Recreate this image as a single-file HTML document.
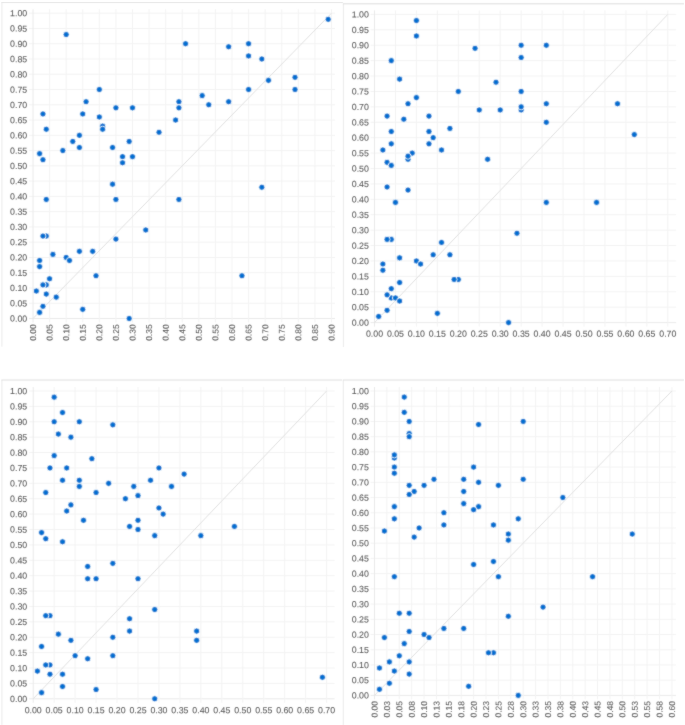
<!DOCTYPE html>
<html><head><meta charset="utf-8"><title>Scatter plots</title>
<style>
html,body{margin:0;padding:0;background:#fff;}
body{width:685px;height:725px;overflow:hidden;}
svg{display:block;}
text{font-family:"Liberation Sans",sans-serif;font-size:8.8px;fill:#606060;stroke:#606060;stroke-width:0.1px;stroke-linejoin:round;letter-spacing:0px;}
circle{fill:#0470d0;stroke:#fff;stroke-width:0.8px;}
</style></head>
<body>
<svg width="685" height="725" viewBox="0 0 685 725">
<defs><filter id="bf" x="0" y="0" width="100%" height="100%"><feConvolveMatrix order="3" kernelMatrix="0.015 0.07 0.015 0.07 0.66 0.07 0.015 0.07 0.015" divisor="1" preserveAlpha="false" edgeMode="none"/></filter></defs>
<rect width="685" height="725" fill="#fff"/>
<g filter="url(#bf)">
<g>
<line x1="1.9" y1="2.3" x2="1.9" y2="346.7" stroke="#eaeaea" stroke-width="1"/>
<line x1="1.4" y1="2.3" x2="342.9" y2="2.3" stroke="#dedede" stroke-width="1"/>
<line x1="29.00" y1="318.50" x2="335.00" y2="318.50" stroke="#eaeaea" stroke-width="1"/>
<line x1="29.00" y1="303.24" x2="335.00" y2="303.24" stroke="#f3f3f3" stroke-width="1"/>
<line x1="29.00" y1="287.97" x2="335.00" y2="287.97" stroke="#f3f3f3" stroke-width="1"/>
<line x1="29.00" y1="272.70" x2="335.00" y2="272.70" stroke="#f3f3f3" stroke-width="1"/>
<line x1="29.00" y1="257.44" x2="335.00" y2="257.44" stroke="#f3f3f3" stroke-width="1"/>
<line x1="29.00" y1="242.18" x2="335.00" y2="242.18" stroke="#f3f3f3" stroke-width="1"/>
<line x1="29.00" y1="226.91" x2="335.00" y2="226.91" stroke="#f3f3f3" stroke-width="1"/>
<line x1="29.00" y1="211.65" x2="335.00" y2="211.65" stroke="#f3f3f3" stroke-width="1"/>
<line x1="29.00" y1="196.38" x2="335.00" y2="196.38" stroke="#f3f3f3" stroke-width="1"/>
<line x1="29.00" y1="181.11" x2="335.00" y2="181.11" stroke="#f3f3f3" stroke-width="1"/>
<line x1="29.00" y1="165.85" x2="335.00" y2="165.85" stroke="#f3f3f3" stroke-width="1"/>
<line x1="29.00" y1="150.58" x2="335.00" y2="150.58" stroke="#f3f3f3" stroke-width="1"/>
<line x1="29.00" y1="135.32" x2="335.00" y2="135.32" stroke="#f3f3f3" stroke-width="1"/>
<line x1="29.00" y1="120.06" x2="335.00" y2="120.06" stroke="#f3f3f3" stroke-width="1"/>
<line x1="29.00" y1="104.79" x2="335.00" y2="104.79" stroke="#f3f3f3" stroke-width="1"/>
<line x1="29.00" y1="89.53" x2="335.00" y2="89.53" stroke="#f3f3f3" stroke-width="1"/>
<line x1="29.00" y1="74.26" x2="335.00" y2="74.26" stroke="#f3f3f3" stroke-width="1"/>
<line x1="29.00" y1="59.00" x2="335.00" y2="59.00" stroke="#f3f3f3" stroke-width="1"/>
<line x1="29.00" y1="43.73" x2="335.00" y2="43.73" stroke="#f3f3f3" stroke-width="1"/>
<line x1="29.00" y1="28.47" x2="335.00" y2="28.47" stroke="#f3f3f3" stroke-width="1"/>
<line x1="29.00" y1="13.20" x2="335.00" y2="13.20" stroke="#f3f3f3" stroke-width="1"/>
<line x1="33.00" y1="9.20" x2="33.00" y2="322.50" stroke="#eaeaea" stroke-width="1"/>
<line x1="49.58" y1="9.20" x2="49.58" y2="322.50" stroke="#f3f3f3" stroke-width="1"/>
<line x1="66.17" y1="9.20" x2="66.17" y2="322.50" stroke="#f3f3f3" stroke-width="1"/>
<line x1="82.75" y1="9.20" x2="82.75" y2="322.50" stroke="#f3f3f3" stroke-width="1"/>
<line x1="99.33" y1="9.20" x2="99.33" y2="322.50" stroke="#f3f3f3" stroke-width="1"/>
<line x1="115.92" y1="9.20" x2="115.92" y2="322.50" stroke="#f3f3f3" stroke-width="1"/>
<line x1="132.50" y1="9.20" x2="132.50" y2="322.50" stroke="#f3f3f3" stroke-width="1"/>
<line x1="149.08" y1="9.20" x2="149.08" y2="322.50" stroke="#f3f3f3" stroke-width="1"/>
<line x1="165.67" y1="9.20" x2="165.67" y2="322.50" stroke="#f3f3f3" stroke-width="1"/>
<line x1="182.25" y1="9.20" x2="182.25" y2="322.50" stroke="#f3f3f3" stroke-width="1"/>
<line x1="198.83" y1="9.20" x2="198.83" y2="322.50" stroke="#f3f3f3" stroke-width="1"/>
<line x1="215.42" y1="9.20" x2="215.42" y2="322.50" stroke="#f3f3f3" stroke-width="1"/>
<line x1="232.00" y1="9.20" x2="232.00" y2="322.50" stroke="#f3f3f3" stroke-width="1"/>
<line x1="248.58" y1="9.20" x2="248.58" y2="322.50" stroke="#f3f3f3" stroke-width="1"/>
<line x1="265.17" y1="9.20" x2="265.17" y2="322.50" stroke="#f3f3f3" stroke-width="1"/>
<line x1="281.75" y1="9.20" x2="281.75" y2="322.50" stroke="#f3f3f3" stroke-width="1"/>
<line x1="298.33" y1="9.20" x2="298.33" y2="322.50" stroke="#f3f3f3" stroke-width="1"/>
<line x1="314.92" y1="9.20" x2="314.92" y2="322.50" stroke="#f3f3f3" stroke-width="1"/>
<line x1="331.50" y1="9.20" x2="331.50" y2="322.50" stroke="#f3f3f3" stroke-width="1"/>
<line x1="33.0" y1="318.5" x2="331.5" y2="13.2" stroke="#e0e0e0" stroke-width="1"/>
<text transform="translate(27.2 321.70) rotate(0.3)" text-anchor="end">0.00</text>
<text transform="translate(27.2 306.44) rotate(0.3)" text-anchor="end">0.05</text>
<text transform="translate(27.2 291.17) rotate(0.3)" text-anchor="end">0.10</text>
<text transform="translate(27.2 275.91) rotate(0.3)" text-anchor="end">0.15</text>
<text transform="translate(27.2 260.64) rotate(0.3)" text-anchor="end">0.20</text>
<text transform="translate(27.2 245.38) rotate(0.3)" text-anchor="end">0.25</text>
<text transform="translate(27.2 230.11) rotate(0.3)" text-anchor="end">0.30</text>
<text transform="translate(27.2 214.85) rotate(0.3)" text-anchor="end">0.35</text>
<text transform="translate(27.2 199.58) rotate(0.3)" text-anchor="end">0.40</text>
<text transform="translate(27.2 184.32) rotate(0.3)" text-anchor="end">0.45</text>
<text transform="translate(27.2 169.05) rotate(0.3)" text-anchor="end">0.50</text>
<text transform="translate(27.2 153.79) rotate(0.3)" text-anchor="end">0.55</text>
<text transform="translate(27.2 138.52) rotate(0.3)" text-anchor="end">0.60</text>
<text transform="translate(27.2 123.26) rotate(0.3)" text-anchor="end">0.65</text>
<text transform="translate(27.2 107.99) rotate(0.3)" text-anchor="end">0.70</text>
<text transform="translate(27.2 92.73) rotate(0.3)" text-anchor="end">0.75</text>
<text transform="translate(27.2 77.46) rotate(0.3)" text-anchor="end">0.80</text>
<text transform="translate(27.2 62.20) rotate(0.3)" text-anchor="end">0.85</text>
<text transform="translate(27.2 46.93) rotate(0.3)" text-anchor="end">0.90</text>
<text transform="translate(27.2 31.67) rotate(0.3)" text-anchor="end">0.95</text>
<text transform="translate(27.2 16.40) rotate(0.3)" text-anchor="end">1.00</text>
<text transform="translate(36.04 324.4) rotate(-89.7)" text-anchor="end" style="font-size:8.45px">0.00</text>
<text transform="translate(52.63 324.4) rotate(-89.7)" text-anchor="end" style="font-size:8.45px">0.05</text>
<text transform="translate(69.21 324.4) rotate(-89.7)" text-anchor="end" style="font-size:8.45px">0.10</text>
<text transform="translate(85.79 324.4) rotate(-89.7)" text-anchor="end" style="font-size:8.45px">0.15</text>
<text transform="translate(102.38 324.4) rotate(-89.7)" text-anchor="end" style="font-size:8.45px">0.20</text>
<text transform="translate(118.96 324.4) rotate(-89.7)" text-anchor="end" style="font-size:8.45px">0.25</text>
<text transform="translate(135.54 324.4) rotate(-89.7)" text-anchor="end" style="font-size:8.45px">0.30</text>
<text transform="translate(152.13 324.4) rotate(-89.7)" text-anchor="end" style="font-size:8.45px">0.35</text>
<text transform="translate(168.71 324.4) rotate(-89.7)" text-anchor="end" style="font-size:8.45px">0.40</text>
<text transform="translate(185.29 324.4) rotate(-89.7)" text-anchor="end" style="font-size:8.45px">0.45</text>
<text transform="translate(201.88 324.4) rotate(-89.7)" text-anchor="end" style="font-size:8.45px">0.50</text>
<text transform="translate(218.46 324.4) rotate(-89.7)" text-anchor="end" style="font-size:8.45px">0.55</text>
<text transform="translate(235.04 324.4) rotate(-89.7)" text-anchor="end" style="font-size:8.45px">0.60</text>
<text transform="translate(251.63 324.4) rotate(-89.7)" text-anchor="end" style="font-size:8.45px">0.65</text>
<text transform="translate(268.21 324.4) rotate(-89.7)" text-anchor="end" style="font-size:8.45px">0.70</text>
<text transform="translate(284.79 324.4) rotate(-89.7)" text-anchor="end" style="font-size:8.45px">0.75</text>
<text transform="translate(301.38 324.4) rotate(-89.7)" text-anchor="end" style="font-size:8.45px">0.80</text>
<text transform="translate(317.96 324.4) rotate(-89.7)" text-anchor="end" style="font-size:8.45px">0.85</text>
<text transform="translate(334.54 324.4) rotate(-89.7)" text-anchor="end" style="font-size:8.45px">0.90</text>
<circle cx="328.18" cy="19.31" r="3.05"/>
<circle cx="66.17" cy="34.57" r="3.05"/>
<circle cx="185.57" cy="43.73" r="3.05"/>
<circle cx="228.68" cy="46.78" r="3.05"/>
<circle cx="248.58" cy="43.73" r="3.05"/>
<circle cx="248.58" cy="55.94" r="3.05"/>
<circle cx="261.85" cy="59.00" r="3.05"/>
<circle cx="295.02" cy="77.31" r="3.05"/>
<circle cx="268.48" cy="80.37" r="3.05"/>
<circle cx="295.02" cy="89.52" r="3.05"/>
<circle cx="248.58" cy="89.52" r="3.05"/>
<circle cx="202.15" cy="95.63" r="3.05"/>
<circle cx="208.78" cy="104.79" r="3.05"/>
<circle cx="228.68" cy="101.74" r="3.05"/>
<circle cx="178.93" cy="101.74" r="3.05"/>
<circle cx="178.93" cy="107.84" r="3.05"/>
<circle cx="175.62" cy="120.05" r="3.05"/>
<circle cx="159.03" cy="132.27" r="3.05"/>
<circle cx="99.33" cy="89.52" r="3.05"/>
<circle cx="86.07" cy="101.74" r="3.05"/>
<circle cx="82.75" cy="113.95" r="3.05"/>
<circle cx="99.33" cy="117.00" r="3.05"/>
<circle cx="102.65" cy="126.16" r="3.05"/>
<circle cx="102.65" cy="129.21" r="3.05"/>
<circle cx="115.92" cy="107.84" r="3.05"/>
<circle cx="132.50" cy="107.84" r="3.05"/>
<circle cx="42.95" cy="113.95" r="3.05"/>
<circle cx="46.27" cy="129.21" r="3.05"/>
<circle cx="79.43" cy="135.32" r="3.05"/>
<circle cx="72.80" cy="141.43" r="3.05"/>
<circle cx="79.43" cy="147.53" r="3.05"/>
<circle cx="62.85" cy="150.58" r="3.05"/>
<circle cx="39.63" cy="153.64" r="3.05"/>
<circle cx="42.95" cy="159.74" r="3.05"/>
<circle cx="112.60" cy="147.53" r="3.05"/>
<circle cx="129.18" cy="141.43" r="3.05"/>
<circle cx="122.55" cy="156.69" r="3.05"/>
<circle cx="132.50" cy="156.69" r="3.05"/>
<circle cx="122.55" cy="162.80" r="3.05"/>
<circle cx="112.60" cy="184.17" r="3.05"/>
<circle cx="46.27" cy="199.43" r="3.05"/>
<circle cx="115.92" cy="199.43" r="3.05"/>
<circle cx="178.93" cy="199.43" r="3.05"/>
<circle cx="261.85" cy="187.22" r="3.05"/>
<circle cx="145.77" cy="229.96" r="3.05"/>
<circle cx="46.27" cy="236.07" r="3.05"/>
<circle cx="42.95" cy="236.07" r="3.05"/>
<circle cx="115.92" cy="239.12" r="3.05"/>
<circle cx="79.43" cy="251.33" r="3.05"/>
<circle cx="92.70" cy="251.33" r="3.05"/>
<circle cx="52.90" cy="254.39" r="3.05"/>
<circle cx="66.17" cy="257.44" r="3.05"/>
<circle cx="69.48" cy="260.49" r="3.05"/>
<circle cx="39.63" cy="260.49" r="3.05"/>
<circle cx="39.63" cy="266.60" r="3.05"/>
<circle cx="96.02" cy="275.76" r="3.05"/>
<circle cx="241.95" cy="275.76" r="3.05"/>
<circle cx="49.58" cy="278.81" r="3.05"/>
<circle cx="46.27" cy="284.92" r="3.05"/>
<circle cx="42.95" cy="284.92" r="3.05"/>
<circle cx="36.32" cy="291.02" r="3.05"/>
<circle cx="46.27" cy="294.08" r="3.05"/>
<circle cx="56.22" cy="297.13" r="3.05"/>
<circle cx="42.95" cy="306.29" r="3.05"/>
<circle cx="39.63" cy="312.39" r="3.05"/>
<circle cx="82.75" cy="309.34" r="3.05"/>
<circle cx="129.18" cy="318.50" r="3.05"/>
</g>
<g>
<line x1="343.4" y1="3.8" x2="343.4" y2="347.0" stroke="#eaeaea" stroke-width="1"/>
<line x1="342.9" y1="3.8" x2="684" y2="3.8" stroke="#dedede" stroke-width="1"/>
<line x1="370.50" y1="322.60" x2="676.20" y2="322.60" stroke="#eaeaea" stroke-width="1"/>
<line x1="370.50" y1="307.19" x2="676.20" y2="307.19" stroke="#f3f3f3" stroke-width="1"/>
<line x1="370.50" y1="291.78" x2="676.20" y2="291.78" stroke="#f3f3f3" stroke-width="1"/>
<line x1="370.50" y1="276.37" x2="676.20" y2="276.37" stroke="#f3f3f3" stroke-width="1"/>
<line x1="370.50" y1="260.96" x2="676.20" y2="260.96" stroke="#f3f3f3" stroke-width="1"/>
<line x1="370.50" y1="245.55" x2="676.20" y2="245.55" stroke="#f3f3f3" stroke-width="1"/>
<line x1="370.50" y1="230.14" x2="676.20" y2="230.14" stroke="#f3f3f3" stroke-width="1"/>
<line x1="370.50" y1="214.73" x2="676.20" y2="214.73" stroke="#f3f3f3" stroke-width="1"/>
<line x1="370.50" y1="199.32" x2="676.20" y2="199.32" stroke="#f3f3f3" stroke-width="1"/>
<line x1="370.50" y1="183.91" x2="676.20" y2="183.91" stroke="#f3f3f3" stroke-width="1"/>
<line x1="370.50" y1="168.50" x2="676.20" y2="168.50" stroke="#f3f3f3" stroke-width="1"/>
<line x1="370.50" y1="153.09" x2="676.20" y2="153.09" stroke="#f3f3f3" stroke-width="1"/>
<line x1="370.50" y1="137.68" x2="676.20" y2="137.68" stroke="#f3f3f3" stroke-width="1"/>
<line x1="370.50" y1="122.27" x2="676.20" y2="122.27" stroke="#f3f3f3" stroke-width="1"/>
<line x1="370.50" y1="106.86" x2="676.20" y2="106.86" stroke="#f3f3f3" stroke-width="1"/>
<line x1="370.50" y1="91.45" x2="676.20" y2="91.45" stroke="#f3f3f3" stroke-width="1"/>
<line x1="370.50" y1="76.04" x2="676.20" y2="76.04" stroke="#f3f3f3" stroke-width="1"/>
<line x1="370.50" y1="60.63" x2="676.20" y2="60.63" stroke="#f3f3f3" stroke-width="1"/>
<line x1="370.50" y1="45.22" x2="676.20" y2="45.22" stroke="#f3f3f3" stroke-width="1"/>
<line x1="370.50" y1="29.81" x2="676.20" y2="29.81" stroke="#f3f3f3" stroke-width="1"/>
<line x1="370.50" y1="14.40" x2="676.20" y2="14.40" stroke="#f3f3f3" stroke-width="1"/>
<line x1="374.50" y1="10.40" x2="374.50" y2="326.60" stroke="#eaeaea" stroke-width="1"/>
<line x1="395.45" y1="10.40" x2="395.45" y2="326.60" stroke="#f3f3f3" stroke-width="1"/>
<line x1="416.40" y1="10.40" x2="416.40" y2="326.60" stroke="#f3f3f3" stroke-width="1"/>
<line x1="437.35" y1="10.40" x2="437.35" y2="326.60" stroke="#f3f3f3" stroke-width="1"/>
<line x1="458.30" y1="10.40" x2="458.30" y2="326.60" stroke="#f3f3f3" stroke-width="1"/>
<line x1="479.25" y1="10.40" x2="479.25" y2="326.60" stroke="#f3f3f3" stroke-width="1"/>
<line x1="500.20" y1="10.40" x2="500.20" y2="326.60" stroke="#f3f3f3" stroke-width="1"/>
<line x1="521.15" y1="10.40" x2="521.15" y2="326.60" stroke="#f3f3f3" stroke-width="1"/>
<line x1="542.10" y1="10.40" x2="542.10" y2="326.60" stroke="#f3f3f3" stroke-width="1"/>
<line x1="563.05" y1="10.40" x2="563.05" y2="326.60" stroke="#f3f3f3" stroke-width="1"/>
<line x1="584.00" y1="10.40" x2="584.00" y2="326.60" stroke="#f3f3f3" stroke-width="1"/>
<line x1="604.95" y1="10.40" x2="604.95" y2="326.60" stroke="#f3f3f3" stroke-width="1"/>
<line x1="625.90" y1="10.40" x2="625.90" y2="326.60" stroke="#f3f3f3" stroke-width="1"/>
<line x1="646.85" y1="10.40" x2="646.85" y2="326.60" stroke="#f3f3f3" stroke-width="1"/>
<line x1="667.80" y1="10.40" x2="667.80" y2="326.60" stroke="#f3f3f3" stroke-width="1"/>
<line x1="374.5" y1="322.6" x2="667.8" y2="14.4" stroke="#e0e0e0" stroke-width="1"/>
<text transform="translate(368.9 325.80) rotate(0.3)" text-anchor="end">0.00</text>
<text transform="translate(368.9 310.39) rotate(0.3)" text-anchor="end">0.05</text>
<text transform="translate(368.9 294.98) rotate(0.3)" text-anchor="end">0.10</text>
<text transform="translate(368.9 279.57) rotate(0.3)" text-anchor="end">0.15</text>
<text transform="translate(368.9 264.16) rotate(0.3)" text-anchor="end">0.20</text>
<text transform="translate(368.9 248.75) rotate(0.3)" text-anchor="end">0.25</text>
<text transform="translate(368.9 233.34) rotate(0.3)" text-anchor="end">0.30</text>
<text transform="translate(368.9 217.93) rotate(0.3)" text-anchor="end">0.35</text>
<text transform="translate(368.9 202.52) rotate(0.3)" text-anchor="end">0.40</text>
<text transform="translate(368.9 187.11) rotate(0.3)" text-anchor="end">0.45</text>
<text transform="translate(368.9 171.70) rotate(0.3)" text-anchor="end">0.50</text>
<text transform="translate(368.9 156.29) rotate(0.3)" text-anchor="end">0.55</text>
<text transform="translate(368.9 140.88) rotate(0.3)" text-anchor="end">0.60</text>
<text transform="translate(368.9 125.47) rotate(0.3)" text-anchor="end">0.65</text>
<text transform="translate(368.9 110.06) rotate(0.3)" text-anchor="end">0.70</text>
<text transform="translate(368.9 94.65) rotate(0.3)" text-anchor="end">0.75</text>
<text transform="translate(368.9 79.24) rotate(0.3)" text-anchor="end">0.80</text>
<text transform="translate(368.9 63.83) rotate(0.3)" text-anchor="end">0.85</text>
<text transform="translate(368.9 48.42) rotate(0.3)" text-anchor="end">0.90</text>
<text transform="translate(368.9 33.01) rotate(0.3)" text-anchor="end">0.95</text>
<text transform="translate(368.9 17.60) rotate(0.3)" text-anchor="end">1.00</text>
<text transform="translate(374.50 336.80) rotate(0.3)" text-anchor="middle">0.00</text>
<text transform="translate(395.45 336.80) rotate(0.3)" text-anchor="middle">0.05</text>
<text transform="translate(416.40 336.80) rotate(0.3)" text-anchor="middle">0.10</text>
<text transform="translate(437.35 336.80) rotate(0.3)" text-anchor="middle">0.15</text>
<text transform="translate(458.30 336.80) rotate(0.3)" text-anchor="middle">0.20</text>
<text transform="translate(479.25 336.80) rotate(0.3)" text-anchor="middle">0.25</text>
<text transform="translate(500.20 336.80) rotate(0.3)" text-anchor="middle">0.30</text>
<text transform="translate(521.15 336.80) rotate(0.3)" text-anchor="middle">0.35</text>
<text transform="translate(542.10 336.80) rotate(0.3)" text-anchor="middle">0.40</text>
<text transform="translate(563.05 336.80) rotate(0.3)" text-anchor="middle">0.45</text>
<text transform="translate(584.00 336.80) rotate(0.3)" text-anchor="middle">0.50</text>
<text transform="translate(604.95 336.80) rotate(0.3)" text-anchor="middle">0.55</text>
<text transform="translate(625.90 336.80) rotate(0.3)" text-anchor="middle">0.60</text>
<text transform="translate(646.85 336.80) rotate(0.3)" text-anchor="middle">0.65</text>
<text transform="translate(667.80 336.80) rotate(0.3)" text-anchor="middle">0.70</text>
<circle cx="416.40" cy="20.56" r="3.05"/>
<circle cx="416.40" cy="35.97" r="3.05"/>
<circle cx="475.06" cy="48.30" r="3.05"/>
<circle cx="521.15" cy="45.22" r="3.05"/>
<circle cx="546.29" cy="45.22" r="3.05"/>
<circle cx="391.26" cy="60.63" r="3.05"/>
<circle cx="521.15" cy="57.55" r="3.05"/>
<circle cx="399.64" cy="79.12" r="3.05"/>
<circle cx="496.01" cy="82.20" r="3.05"/>
<circle cx="458.30" cy="91.45" r="3.05"/>
<circle cx="521.15" cy="91.45" r="3.05"/>
<circle cx="416.40" cy="97.61" r="3.05"/>
<circle cx="408.02" cy="103.78" r="3.05"/>
<circle cx="546.29" cy="103.78" r="3.05"/>
<circle cx="617.52" cy="103.78" r="3.05"/>
<circle cx="521.15" cy="109.94" r="3.05"/>
<circle cx="521.15" cy="106.86" r="3.05"/>
<circle cx="479.25" cy="109.94" r="3.05"/>
<circle cx="500.20" cy="109.94" r="3.05"/>
<circle cx="387.07" cy="116.11" r="3.05"/>
<circle cx="428.97" cy="116.11" r="3.05"/>
<circle cx="403.83" cy="119.19" r="3.05"/>
<circle cx="546.29" cy="122.27" r="3.05"/>
<circle cx="449.92" cy="128.43" r="3.05"/>
<circle cx="391.26" cy="131.52" r="3.05"/>
<circle cx="428.97" cy="131.52" r="3.05"/>
<circle cx="634.28" cy="134.60" r="3.05"/>
<circle cx="433.16" cy="137.68" r="3.05"/>
<circle cx="382.88" cy="150.01" r="3.05"/>
<circle cx="391.26" cy="143.84" r="3.05"/>
<circle cx="428.97" cy="143.84" r="3.05"/>
<circle cx="441.54" cy="150.01" r="3.05"/>
<circle cx="412.21" cy="153.09" r="3.05"/>
<circle cx="408.02" cy="159.25" r="3.05"/>
<circle cx="408.02" cy="156.17" r="3.05"/>
<circle cx="487.63" cy="159.25" r="3.05"/>
<circle cx="387.07" cy="162.34" r="3.05"/>
<circle cx="391.26" cy="165.42" r="3.05"/>
<circle cx="387.07" cy="186.99" r="3.05"/>
<circle cx="408.02" cy="190.07" r="3.05"/>
<circle cx="395.45" cy="202.40" r="3.05"/>
<circle cx="546.29" cy="202.40" r="3.05"/>
<circle cx="596.57" cy="202.40" r="3.05"/>
<circle cx="516.96" cy="233.22" r="3.05"/>
<circle cx="391.26" cy="239.39" r="3.05"/>
<circle cx="387.07" cy="239.39" r="3.05"/>
<circle cx="441.54" cy="242.47" r="3.05"/>
<circle cx="399.64" cy="257.88" r="3.05"/>
<circle cx="416.40" cy="260.96" r="3.05"/>
<circle cx="420.59" cy="264.04" r="3.05"/>
<circle cx="433.16" cy="254.80" r="3.05"/>
<circle cx="449.92" cy="254.80" r="3.05"/>
<circle cx="382.88" cy="264.04" r="3.05"/>
<circle cx="382.88" cy="270.21" r="3.05"/>
<circle cx="458.30" cy="279.45" r="3.05"/>
<circle cx="454.11" cy="279.45" r="3.05"/>
<circle cx="399.64" cy="282.53" r="3.05"/>
<circle cx="391.26" cy="288.70" r="3.05"/>
<circle cx="391.26" cy="297.94" r="3.05"/>
<circle cx="387.07" cy="294.86" r="3.05"/>
<circle cx="395.45" cy="297.94" r="3.05"/>
<circle cx="399.64" cy="301.03" r="3.05"/>
<circle cx="387.07" cy="310.27" r="3.05"/>
<circle cx="378.69" cy="316.44" r="3.05"/>
<circle cx="437.35" cy="313.35" r="3.05"/>
<circle cx="508.58" cy="322.60" r="3.05"/>
</g>
<g>
<line x1="1.9" y1="380.0" x2="1.9" y2="725" stroke="#eaeaea" stroke-width="1"/>
<line x1="1.4" y1="380.0" x2="342.0" y2="380.0" stroke="#dedede" stroke-width="1"/>
<line x1="29.20" y1="698.80" x2="334.60" y2="698.80" stroke="#eaeaea" stroke-width="1"/>
<line x1="29.20" y1="683.41" x2="334.60" y2="683.41" stroke="#f3f3f3" stroke-width="1"/>
<line x1="29.20" y1="668.02" x2="334.60" y2="668.02" stroke="#f3f3f3" stroke-width="1"/>
<line x1="29.20" y1="652.63" x2="334.60" y2="652.63" stroke="#f3f3f3" stroke-width="1"/>
<line x1="29.20" y1="637.24" x2="334.60" y2="637.24" stroke="#f3f3f3" stroke-width="1"/>
<line x1="29.20" y1="621.85" x2="334.60" y2="621.85" stroke="#f3f3f3" stroke-width="1"/>
<line x1="29.20" y1="606.46" x2="334.60" y2="606.46" stroke="#f3f3f3" stroke-width="1"/>
<line x1="29.20" y1="591.07" x2="334.60" y2="591.07" stroke="#f3f3f3" stroke-width="1"/>
<line x1="29.20" y1="575.68" x2="334.60" y2="575.68" stroke="#f3f3f3" stroke-width="1"/>
<line x1="29.20" y1="560.29" x2="334.60" y2="560.29" stroke="#f3f3f3" stroke-width="1"/>
<line x1="29.20" y1="544.90" x2="334.60" y2="544.90" stroke="#f3f3f3" stroke-width="1"/>
<line x1="29.20" y1="529.51" x2="334.60" y2="529.51" stroke="#f3f3f3" stroke-width="1"/>
<line x1="29.20" y1="514.12" x2="334.60" y2="514.12" stroke="#f3f3f3" stroke-width="1"/>
<line x1="29.20" y1="498.73" x2="334.60" y2="498.73" stroke="#f3f3f3" stroke-width="1"/>
<line x1="29.20" y1="483.34" x2="334.60" y2="483.34" stroke="#f3f3f3" stroke-width="1"/>
<line x1="29.20" y1="467.95" x2="334.60" y2="467.95" stroke="#f3f3f3" stroke-width="1"/>
<line x1="29.20" y1="452.56" x2="334.60" y2="452.56" stroke="#f3f3f3" stroke-width="1"/>
<line x1="29.20" y1="437.17" x2="334.60" y2="437.17" stroke="#f3f3f3" stroke-width="1"/>
<line x1="29.20" y1="421.78" x2="334.60" y2="421.78" stroke="#f3f3f3" stroke-width="1"/>
<line x1="29.20" y1="406.39" x2="334.60" y2="406.39" stroke="#f3f3f3" stroke-width="1"/>
<line x1="29.20" y1="391.00" x2="334.60" y2="391.00" stroke="#f3f3f3" stroke-width="1"/>
<line x1="33.20" y1="387.00" x2="33.20" y2="702.80" stroke="#eaeaea" stroke-width="1"/>
<line x1="54.16" y1="387.00" x2="54.16" y2="702.80" stroke="#f3f3f3" stroke-width="1"/>
<line x1="75.11" y1="387.00" x2="75.11" y2="702.80" stroke="#f3f3f3" stroke-width="1"/>
<line x1="96.07" y1="387.00" x2="96.07" y2="702.80" stroke="#f3f3f3" stroke-width="1"/>
<line x1="117.03" y1="387.00" x2="117.03" y2="702.80" stroke="#f3f3f3" stroke-width="1"/>
<line x1="137.99" y1="387.00" x2="137.99" y2="702.80" stroke="#f3f3f3" stroke-width="1"/>
<line x1="158.94" y1="387.00" x2="158.94" y2="702.80" stroke="#f3f3f3" stroke-width="1"/>
<line x1="179.90" y1="387.00" x2="179.90" y2="702.80" stroke="#f3f3f3" stroke-width="1"/>
<line x1="200.86" y1="387.00" x2="200.86" y2="702.80" stroke="#f3f3f3" stroke-width="1"/>
<line x1="221.81" y1="387.00" x2="221.81" y2="702.80" stroke="#f3f3f3" stroke-width="1"/>
<line x1="242.77" y1="387.00" x2="242.77" y2="702.80" stroke="#f3f3f3" stroke-width="1"/>
<line x1="263.73" y1="387.00" x2="263.73" y2="702.80" stroke="#f3f3f3" stroke-width="1"/>
<line x1="284.69" y1="387.00" x2="284.69" y2="702.80" stroke="#f3f3f3" stroke-width="1"/>
<line x1="305.64" y1="387.00" x2="305.64" y2="702.80" stroke="#f3f3f3" stroke-width="1"/>
<line x1="326.60" y1="387.00" x2="326.60" y2="702.80" stroke="#f3f3f3" stroke-width="1"/>
<line x1="33.2" y1="698.8" x2="326.6" y2="391.0" stroke="#e0e0e0" stroke-width="1"/>
<text transform="translate(27.2 702.00) rotate(0.3)" text-anchor="end">0.00</text>
<text transform="translate(27.2 686.61) rotate(0.3)" text-anchor="end">0.05</text>
<text transform="translate(27.2 671.22) rotate(0.3)" text-anchor="end">0.10</text>
<text transform="translate(27.2 655.83) rotate(0.3)" text-anchor="end">0.15</text>
<text transform="translate(27.2 640.44) rotate(0.3)" text-anchor="end">0.20</text>
<text transform="translate(27.2 625.05) rotate(0.3)" text-anchor="end">0.25</text>
<text transform="translate(27.2 609.66) rotate(0.3)" text-anchor="end">0.30</text>
<text transform="translate(27.2 594.27) rotate(0.3)" text-anchor="end">0.35</text>
<text transform="translate(27.2 578.88) rotate(0.3)" text-anchor="end">0.40</text>
<text transform="translate(27.2 563.49) rotate(0.3)" text-anchor="end">0.45</text>
<text transform="translate(27.2 548.10) rotate(0.3)" text-anchor="end">0.50</text>
<text transform="translate(27.2 532.71) rotate(0.3)" text-anchor="end">0.55</text>
<text transform="translate(27.2 517.32) rotate(0.3)" text-anchor="end">0.60</text>
<text transform="translate(27.2 501.93) rotate(0.3)" text-anchor="end">0.65</text>
<text transform="translate(27.2 486.54) rotate(0.3)" text-anchor="end">0.70</text>
<text transform="translate(27.2 471.15) rotate(0.3)" text-anchor="end">0.75</text>
<text transform="translate(27.2 455.76) rotate(0.3)" text-anchor="end">0.80</text>
<text transform="translate(27.2 440.37) rotate(0.3)" text-anchor="end">0.85</text>
<text transform="translate(27.2 424.98) rotate(0.3)" text-anchor="end">0.90</text>
<text transform="translate(27.2 409.59) rotate(0.3)" text-anchor="end">0.95</text>
<text transform="translate(27.2 394.20) rotate(0.3)" text-anchor="end">1.00</text>
<text transform="translate(33.20 713.20) rotate(0.3)" text-anchor="middle">0.00</text>
<text transform="translate(54.16 713.20) rotate(0.3)" text-anchor="middle">0.05</text>
<text transform="translate(75.11 713.20) rotate(0.3)" text-anchor="middle">0.10</text>
<text transform="translate(96.07 713.20) rotate(0.3)" text-anchor="middle">0.15</text>
<text transform="translate(117.03 713.20) rotate(0.3)" text-anchor="middle">0.20</text>
<text transform="translate(137.99 713.20) rotate(0.3)" text-anchor="middle">0.25</text>
<text transform="translate(158.94 713.20) rotate(0.3)" text-anchor="middle">0.30</text>
<text transform="translate(179.90 713.20) rotate(0.3)" text-anchor="middle">0.35</text>
<text transform="translate(200.86 713.20) rotate(0.3)" text-anchor="middle">0.40</text>
<text transform="translate(221.81 713.20) rotate(0.3)" text-anchor="middle">0.45</text>
<text transform="translate(242.77 713.20) rotate(0.3)" text-anchor="middle">0.50</text>
<text transform="translate(263.73 713.20) rotate(0.3)" text-anchor="middle">0.55</text>
<text transform="translate(284.69 713.20) rotate(0.3)" text-anchor="middle">0.60</text>
<text transform="translate(305.64 713.20) rotate(0.3)" text-anchor="middle">0.65</text>
<text transform="translate(326.60 713.20) rotate(0.3)" text-anchor="middle">0.70</text>
<circle cx="54.16" cy="397.16" r="3.05"/>
<circle cx="62.54" cy="412.55" r="3.05"/>
<circle cx="54.16" cy="421.78" r="3.05"/>
<circle cx="79.31" cy="421.78" r="3.05"/>
<circle cx="112.84" cy="424.86" r="3.05"/>
<circle cx="58.35" cy="434.09" r="3.05"/>
<circle cx="70.92" cy="437.17" r="3.05"/>
<circle cx="54.16" cy="455.64" r="3.05"/>
<circle cx="91.88" cy="458.72" r="3.05"/>
<circle cx="49.97" cy="467.95" r="3.05"/>
<circle cx="66.73" cy="467.95" r="3.05"/>
<circle cx="158.94" cy="467.95" r="3.05"/>
<circle cx="184.09" cy="474.11" r="3.05"/>
<circle cx="62.54" cy="480.26" r="3.05"/>
<circle cx="79.31" cy="480.26" r="3.05"/>
<circle cx="150.56" cy="480.26" r="3.05"/>
<circle cx="108.65" cy="483.34" r="3.05"/>
<circle cx="79.31" cy="486.42" r="3.05"/>
<circle cx="133.79" cy="486.42" r="3.05"/>
<circle cx="171.52" cy="486.42" r="3.05"/>
<circle cx="45.77" cy="492.57" r="3.05"/>
<circle cx="96.07" cy="492.57" r="3.05"/>
<circle cx="137.99" cy="495.65" r="3.05"/>
<circle cx="125.41" cy="498.73" r="3.05"/>
<circle cx="70.92" cy="504.89" r="3.05"/>
<circle cx="158.94" cy="507.96" r="3.05"/>
<circle cx="66.73" cy="511.04" r="3.05"/>
<circle cx="163.13" cy="514.12" r="3.05"/>
<circle cx="83.50" cy="520.28" r="3.05"/>
<circle cx="137.99" cy="520.28" r="3.05"/>
<circle cx="129.60" cy="526.43" r="3.05"/>
<circle cx="234.39" cy="526.43" r="3.05"/>
<circle cx="137.99" cy="529.51" r="3.05"/>
<circle cx="41.58" cy="532.59" r="3.05"/>
<circle cx="154.75" cy="535.67" r="3.05"/>
<circle cx="200.86" cy="535.67" r="3.05"/>
<circle cx="45.77" cy="538.74" r="3.05"/>
<circle cx="62.54" cy="541.82" r="3.05"/>
<circle cx="112.84" cy="563.37" r="3.05"/>
<circle cx="87.69" cy="566.45" r="3.05"/>
<circle cx="87.69" cy="578.76" r="3.05"/>
<circle cx="96.07" cy="578.76" r="3.05"/>
<circle cx="137.99" cy="578.76" r="3.05"/>
<circle cx="154.75" cy="609.54" r="3.05"/>
<circle cx="49.97" cy="615.69" r="3.05"/>
<circle cx="45.77" cy="615.69" r="3.05"/>
<circle cx="129.60" cy="618.77" r="3.05"/>
<circle cx="129.60" cy="631.08" r="3.05"/>
<circle cx="196.67" cy="631.08" r="3.05"/>
<circle cx="58.35" cy="634.16" r="3.05"/>
<circle cx="112.84" cy="637.24" r="3.05"/>
<circle cx="70.92" cy="640.32" r="3.05"/>
<circle cx="196.67" cy="640.32" r="3.05"/>
<circle cx="41.58" cy="646.47" r="3.05"/>
<circle cx="75.11" cy="655.71" r="3.05"/>
<circle cx="112.84" cy="655.71" r="3.05"/>
<circle cx="87.69" cy="658.79" r="3.05"/>
<circle cx="49.97" cy="664.94" r="3.05"/>
<circle cx="45.77" cy="664.94" r="3.05"/>
<circle cx="37.39" cy="671.10" r="3.05"/>
<circle cx="49.97" cy="674.18" r="3.05"/>
<circle cx="62.54" cy="674.18" r="3.05"/>
<circle cx="322.41" cy="677.25" r="3.05"/>
<circle cx="62.54" cy="686.49" r="3.05"/>
<circle cx="96.07" cy="689.57" r="3.05"/>
<circle cx="41.58" cy="692.64" r="3.05"/>
<circle cx="154.75" cy="698.80" r="3.05"/>
</g>
<g>
<line x1="343.3" y1="380.0" x2="343.3" y2="725" stroke="#eaeaea" stroke-width="1"/>
<line x1="342.8" y1="380.0" x2="684" y2="380.0" stroke="#dedede" stroke-width="1"/>
<line x1="370.50" y1="695.40" x2="675.90" y2="695.40" stroke="#eaeaea" stroke-width="1"/>
<line x1="370.50" y1="680.18" x2="675.90" y2="680.18" stroke="#f3f3f3" stroke-width="1"/>
<line x1="370.50" y1="664.96" x2="675.90" y2="664.96" stroke="#f3f3f3" stroke-width="1"/>
<line x1="370.50" y1="649.74" x2="675.90" y2="649.74" stroke="#f3f3f3" stroke-width="1"/>
<line x1="370.50" y1="634.52" x2="675.90" y2="634.52" stroke="#f3f3f3" stroke-width="1"/>
<line x1="370.50" y1="619.30" x2="675.90" y2="619.30" stroke="#f3f3f3" stroke-width="1"/>
<line x1="370.50" y1="604.08" x2="675.90" y2="604.08" stroke="#f3f3f3" stroke-width="1"/>
<line x1="370.50" y1="588.86" x2="675.90" y2="588.86" stroke="#f3f3f3" stroke-width="1"/>
<line x1="370.50" y1="573.64" x2="675.90" y2="573.64" stroke="#f3f3f3" stroke-width="1"/>
<line x1="370.50" y1="558.42" x2="675.90" y2="558.42" stroke="#f3f3f3" stroke-width="1"/>
<line x1="370.50" y1="543.20" x2="675.90" y2="543.20" stroke="#f3f3f3" stroke-width="1"/>
<line x1="370.50" y1="527.98" x2="675.90" y2="527.98" stroke="#f3f3f3" stroke-width="1"/>
<line x1="370.50" y1="512.76" x2="675.90" y2="512.76" stroke="#f3f3f3" stroke-width="1"/>
<line x1="370.50" y1="497.54" x2="675.90" y2="497.54" stroke="#f3f3f3" stroke-width="1"/>
<line x1="370.50" y1="482.32" x2="675.90" y2="482.32" stroke="#f3f3f3" stroke-width="1"/>
<line x1="370.50" y1="467.10" x2="675.90" y2="467.10" stroke="#f3f3f3" stroke-width="1"/>
<line x1="370.50" y1="451.88" x2="675.90" y2="451.88" stroke="#f3f3f3" stroke-width="1"/>
<line x1="370.50" y1="436.66" x2="675.90" y2="436.66" stroke="#f3f3f3" stroke-width="1"/>
<line x1="370.50" y1="421.44" x2="675.90" y2="421.44" stroke="#f3f3f3" stroke-width="1"/>
<line x1="370.50" y1="406.22" x2="675.90" y2="406.22" stroke="#f3f3f3" stroke-width="1"/>
<line x1="370.50" y1="391.00" x2="675.90" y2="391.00" stroke="#f3f3f3" stroke-width="1"/>
<line x1="374.50" y1="387.00" x2="374.50" y2="699.40" stroke="#eaeaea" stroke-width="1"/>
<line x1="386.89" y1="387.00" x2="386.89" y2="699.40" stroke="#f3f3f3" stroke-width="1"/>
<line x1="399.28" y1="387.00" x2="399.28" y2="699.40" stroke="#f3f3f3" stroke-width="1"/>
<line x1="411.68" y1="387.00" x2="411.68" y2="699.40" stroke="#f3f3f3" stroke-width="1"/>
<line x1="424.07" y1="387.00" x2="424.07" y2="699.40" stroke="#f3f3f3" stroke-width="1"/>
<line x1="436.46" y1="387.00" x2="436.46" y2="699.40" stroke="#f3f3f3" stroke-width="1"/>
<line x1="448.85" y1="387.00" x2="448.85" y2="699.40" stroke="#f3f3f3" stroke-width="1"/>
<line x1="461.24" y1="387.00" x2="461.24" y2="699.40" stroke="#f3f3f3" stroke-width="1"/>
<line x1="473.63" y1="387.00" x2="473.63" y2="699.40" stroke="#f3f3f3" stroke-width="1"/>
<line x1="486.02" y1="387.00" x2="486.02" y2="699.40" stroke="#f3f3f3" stroke-width="1"/>
<line x1="498.42" y1="387.00" x2="498.42" y2="699.40" stroke="#f3f3f3" stroke-width="1"/>
<line x1="510.81" y1="387.00" x2="510.81" y2="699.40" stroke="#f3f3f3" stroke-width="1"/>
<line x1="523.20" y1="387.00" x2="523.20" y2="699.40" stroke="#f3f3f3" stroke-width="1"/>
<line x1="535.59" y1="387.00" x2="535.59" y2="699.40" stroke="#f3f3f3" stroke-width="1"/>
<line x1="547.98" y1="387.00" x2="547.98" y2="699.40" stroke="#f3f3f3" stroke-width="1"/>
<line x1="560.38" y1="387.00" x2="560.38" y2="699.40" stroke="#f3f3f3" stroke-width="1"/>
<line x1="572.77" y1="387.00" x2="572.77" y2="699.40" stroke="#f3f3f3" stroke-width="1"/>
<line x1="585.16" y1="387.00" x2="585.16" y2="699.40" stroke="#f3f3f3" stroke-width="1"/>
<line x1="597.55" y1="387.00" x2="597.55" y2="699.40" stroke="#f3f3f3" stroke-width="1"/>
<line x1="609.94" y1="387.00" x2="609.94" y2="699.40" stroke="#f3f3f3" stroke-width="1"/>
<line x1="622.33" y1="387.00" x2="622.33" y2="699.40" stroke="#f3f3f3" stroke-width="1"/>
<line x1="634.72" y1="387.00" x2="634.72" y2="699.40" stroke="#f3f3f3" stroke-width="1"/>
<line x1="647.12" y1="387.00" x2="647.12" y2="699.40" stroke="#f3f3f3" stroke-width="1"/>
<line x1="659.51" y1="387.00" x2="659.51" y2="699.40" stroke="#f3f3f3" stroke-width="1"/>
<line x1="671.90" y1="387.00" x2="671.90" y2="699.40" stroke="#f3f3f3" stroke-width="1"/>
<line x1="374.5" y1="695.4" x2="671.9" y2="391.0" stroke="#e0e0e0" stroke-width="1"/>
<text transform="translate(368.9 698.60) rotate(0.3)" text-anchor="end">0.00</text>
<text transform="translate(368.9 683.38) rotate(0.3)" text-anchor="end">0.05</text>
<text transform="translate(368.9 668.16) rotate(0.3)" text-anchor="end">0.10</text>
<text transform="translate(368.9 652.94) rotate(0.3)" text-anchor="end">0.15</text>
<text transform="translate(368.9 637.72) rotate(0.3)" text-anchor="end">0.20</text>
<text transform="translate(368.9 622.50) rotate(0.3)" text-anchor="end">0.25</text>
<text transform="translate(368.9 607.28) rotate(0.3)" text-anchor="end">0.30</text>
<text transform="translate(368.9 592.06) rotate(0.3)" text-anchor="end">0.35</text>
<text transform="translate(368.9 576.84) rotate(0.3)" text-anchor="end">0.40</text>
<text transform="translate(368.9 561.62) rotate(0.3)" text-anchor="end">0.45</text>
<text transform="translate(368.9 546.40) rotate(0.3)" text-anchor="end">0.50</text>
<text transform="translate(368.9 531.18) rotate(0.3)" text-anchor="end">0.55</text>
<text transform="translate(368.9 515.96) rotate(0.3)" text-anchor="end">0.60</text>
<text transform="translate(368.9 500.74) rotate(0.3)" text-anchor="end">0.65</text>
<text transform="translate(368.9 485.52) rotate(0.3)" text-anchor="end">0.70</text>
<text transform="translate(368.9 470.30) rotate(0.3)" text-anchor="end">0.75</text>
<text transform="translate(368.9 455.08) rotate(0.3)" text-anchor="end">0.80</text>
<text transform="translate(368.9 439.86) rotate(0.3)" text-anchor="end">0.85</text>
<text transform="translate(368.9 424.64) rotate(0.3)" text-anchor="end">0.90</text>
<text transform="translate(368.9 409.42) rotate(0.3)" text-anchor="end">0.95</text>
<text transform="translate(368.9 394.20) rotate(0.3)" text-anchor="end">1.00</text>
<text transform="translate(377.54 701.1) rotate(-89.7)" text-anchor="end" style="font-size:8.45px">0.00</text>
<text transform="translate(389.93 701.1) rotate(-89.7)" text-anchor="end" style="font-size:8.45px">0.03</text>
<text transform="translate(402.33 701.1) rotate(-89.7)" text-anchor="end" style="font-size:8.45px">0.05</text>
<text transform="translate(414.72 701.1) rotate(-89.7)" text-anchor="end" style="font-size:8.45px">0.08</text>
<text transform="translate(427.11 701.1) rotate(-89.7)" text-anchor="end" style="font-size:8.45px">0.10</text>
<text transform="translate(439.50 701.1) rotate(-89.7)" text-anchor="end" style="font-size:8.45px">0.13</text>
<text transform="translate(451.89 701.1) rotate(-89.7)" text-anchor="end" style="font-size:8.45px">0.15</text>
<text transform="translate(464.28 701.1) rotate(-89.7)" text-anchor="end" style="font-size:8.45px">0.18</text>
<text transform="translate(476.68 701.1) rotate(-89.7)" text-anchor="end" style="font-size:8.45px">0.20</text>
<text transform="translate(489.07 701.1) rotate(-89.7)" text-anchor="end" style="font-size:8.45px">0.23</text>
<text transform="translate(501.46 701.1) rotate(-89.7)" text-anchor="end" style="font-size:8.45px">0.25</text>
<text transform="translate(513.85 701.1) rotate(-89.7)" text-anchor="end" style="font-size:8.45px">0.28</text>
<text transform="translate(526.24 701.1) rotate(-89.7)" text-anchor="end" style="font-size:8.45px">0.30</text>
<text transform="translate(538.63 701.1) rotate(-89.7)" text-anchor="end" style="font-size:8.45px">0.33</text>
<text transform="translate(551.03 701.1) rotate(-89.7)" text-anchor="end" style="font-size:8.45px">0.35</text>
<text transform="translate(563.42 701.1) rotate(-89.7)" text-anchor="end" style="font-size:8.45px">0.38</text>
<text transform="translate(575.81 701.1) rotate(-89.7)" text-anchor="end" style="font-size:8.45px">0.40</text>
<text transform="translate(588.20 701.1) rotate(-89.7)" text-anchor="end" style="font-size:8.45px">0.43</text>
<text transform="translate(600.59 701.1) rotate(-89.7)" text-anchor="end" style="font-size:8.45px">0.45</text>
<text transform="translate(612.98 701.1) rotate(-89.7)" text-anchor="end" style="font-size:8.45px">0.48</text>
<text transform="translate(625.38 701.1) rotate(-89.7)" text-anchor="end" style="font-size:8.45px">0.50</text>
<text transform="translate(637.77 701.1) rotate(-89.7)" text-anchor="end" style="font-size:8.45px">0.53</text>
<text transform="translate(650.16 701.1) rotate(-89.7)" text-anchor="end" style="font-size:8.45px">0.55</text>
<text transform="translate(662.55 701.1) rotate(-89.7)" text-anchor="end" style="font-size:8.45px">0.58</text>
<text transform="translate(674.94 701.1) rotate(-89.7)" text-anchor="end" style="font-size:8.45px">0.60</text>
<circle cx="404.24" cy="397.09" r="3.05"/>
<circle cx="404.24" cy="412.31" r="3.05"/>
<circle cx="409.20" cy="421.44" r="3.05"/>
<circle cx="478.59" cy="424.48" r="3.05"/>
<circle cx="523.20" cy="421.44" r="3.05"/>
<circle cx="409.20" cy="433.62" r="3.05"/>
<circle cx="409.20" cy="436.66" r="3.05"/>
<circle cx="394.33" cy="457.97" r="3.05"/>
<circle cx="394.33" cy="454.92" r="3.05"/>
<circle cx="394.33" cy="467.10" r="3.05"/>
<circle cx="394.33" cy="473.19" r="3.05"/>
<circle cx="473.63" cy="467.10" r="3.05"/>
<circle cx="433.98" cy="479.28" r="3.05"/>
<circle cx="463.72" cy="479.28" r="3.05"/>
<circle cx="523.20" cy="479.28" r="3.05"/>
<circle cx="409.20" cy="485.36" r="3.05"/>
<circle cx="424.07" cy="485.36" r="3.05"/>
<circle cx="478.59" cy="482.32" r="3.05"/>
<circle cx="498.42" cy="485.36" r="3.05"/>
<circle cx="414.15" cy="491.45" r="3.05"/>
<circle cx="463.72" cy="491.45" r="3.05"/>
<circle cx="409.20" cy="494.50" r="3.05"/>
<circle cx="562.85" cy="497.54" r="3.05"/>
<circle cx="463.72" cy="503.63" r="3.05"/>
<circle cx="394.33" cy="506.67" r="3.05"/>
<circle cx="478.59" cy="506.67" r="3.05"/>
<circle cx="473.63" cy="509.72" r="3.05"/>
<circle cx="443.89" cy="512.76" r="3.05"/>
<circle cx="394.33" cy="518.85" r="3.05"/>
<circle cx="518.24" cy="518.85" r="3.05"/>
<circle cx="443.89" cy="524.94" r="3.05"/>
<circle cx="493.46" cy="524.94" r="3.05"/>
<circle cx="419.11" cy="527.98" r="3.05"/>
<circle cx="384.41" cy="531.02" r="3.05"/>
<circle cx="508.33" cy="534.07" r="3.05"/>
<circle cx="632.25" cy="534.07" r="3.05"/>
<circle cx="414.15" cy="537.11" r="3.05"/>
<circle cx="508.33" cy="540.16" r="3.05"/>
<circle cx="493.46" cy="561.46" r="3.05"/>
<circle cx="473.63" cy="564.51" r="3.05"/>
<circle cx="394.33" cy="576.68" r="3.05"/>
<circle cx="498.42" cy="576.68" r="3.05"/>
<circle cx="592.59" cy="576.68" r="3.05"/>
<circle cx="543.03" cy="607.12" r="3.05"/>
<circle cx="399.28" cy="613.21" r="3.05"/>
<circle cx="409.20" cy="613.21" r="3.05"/>
<circle cx="508.33" cy="616.26" r="3.05"/>
<circle cx="443.89" cy="628.43" r="3.05"/>
<circle cx="463.72" cy="628.43" r="3.05"/>
<circle cx="409.20" cy="631.48" r="3.05"/>
<circle cx="424.07" cy="634.52" r="3.05"/>
<circle cx="429.02" cy="637.56" r="3.05"/>
<circle cx="384.41" cy="637.56" r="3.05"/>
<circle cx="404.24" cy="643.65" r="3.05"/>
<circle cx="493.46" cy="652.78" r="3.05"/>
<circle cx="488.50" cy="652.78" r="3.05"/>
<circle cx="399.28" cy="655.83" r="3.05"/>
<circle cx="389.37" cy="661.92" r="3.05"/>
<circle cx="409.20" cy="661.92" r="3.05"/>
<circle cx="379.46" cy="668.00" r="3.05"/>
<circle cx="394.33" cy="671.05" r="3.05"/>
<circle cx="409.20" cy="674.09" r="3.05"/>
<circle cx="389.37" cy="683.22" r="3.05"/>
<circle cx="379.46" cy="689.31" r="3.05"/>
<circle cx="468.68" cy="686.27" r="3.05"/>
<circle cx="518.24" cy="695.40" r="3.05"/>
</g>
</g>
</svg>
</body></html>
